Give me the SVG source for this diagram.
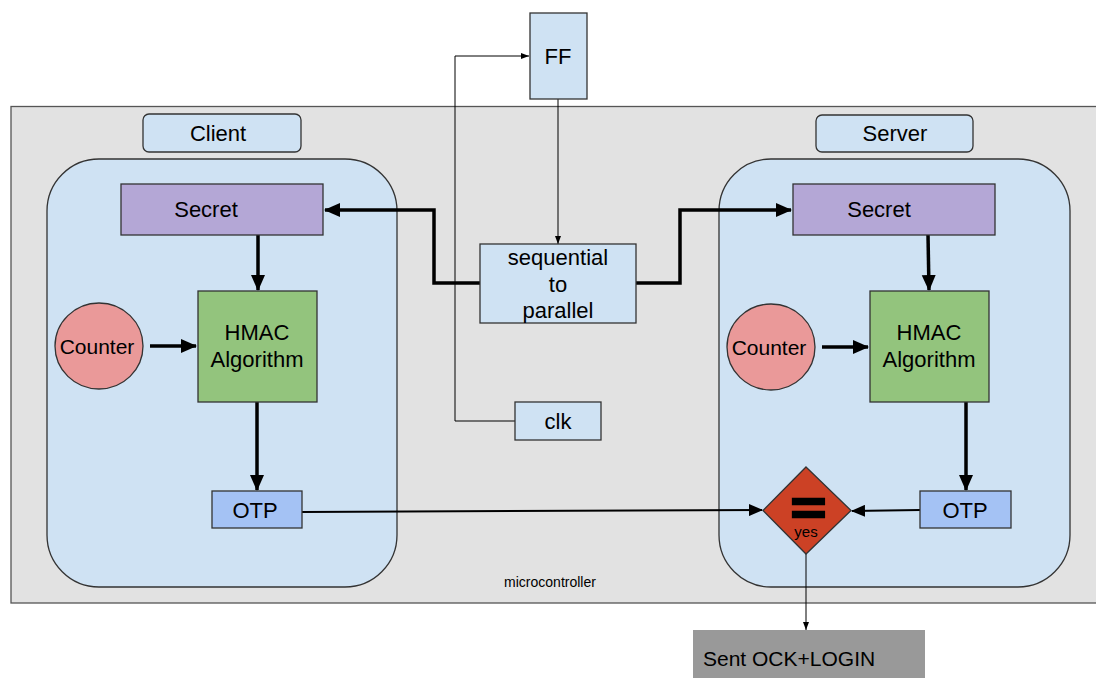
<svg xmlns="http://www.w3.org/2000/svg" width="1096" height="678" viewBox="0 0 1096 678">
<defs>
<style>
text{font-family:"Liberation Sans",Arial,sans-serif;fill:#000;text-anchor:middle;font-size:22px}
.box{stroke:#333;stroke-width:1.3}
.thick{fill:none;stroke:#000;stroke-width:3.5}
.mid{fill:none;stroke:#000;stroke-width:2}
.thin{fill:none;stroke:#000;stroke-width:1}
</style>
<marker id="ah" markerUnits="userSpaceOnUse" markerWidth="16" markerHeight="16" viewBox="0 0 16 16" refX="15" refY="8" orient="auto"><path d="M0,1 L16,8 L0,15 Z" fill="#000"/></marker>
<marker id="am" markerUnits="userSpaceOnUse" markerWidth="14" markerHeight="12" viewBox="0 0 14 12" refX="13" refY="6" orient="auto"><path d="M0,0 L14,6 L0,12 Z" fill="#000"/></marker>
<marker id="as" markerUnits="userSpaceOnUse" markerWidth="8" markerHeight="8" viewBox="0 0 8 8" refX="8" refY="4" orient="auto"><path d="M0,1 L8,4 L0,7 Z" fill="#000"/></marker>
</defs>
<rect width="1096" height="678" fill="#fff"/>
<g id="microcontroller">
<rect x="11" y="106.5" width="1090" height="496.5" fill="#e2e2e2" stroke="#555" stroke-width="1.3"/>
<text x="550" y="587" style="font-size:14px">microcontroller</text>
</g>
<g id="client-label"><rect class="box" x="143" y="114" width="158" height="38" rx="6" fill="#cfe2f3"/><text x="218" y="141">Client</text></g>
<g id="client-container"><rect class="box" x="47" y="159" width="350" height="428" rx="52" fill="#cfe2f3"/></g>
<g id="server-label"><rect class="box" x="816" y="115" width="157" height="37" rx="6" fill="#cfe2f3"/><text x="895" y="141">Server</text></g>
<g id="server-container"><rect class="box" x="719" y="159" width="351" height="428" rx="52" fill="#cfe2f3"/></g>

<g id="connectors">
<path class="thin" d="M515,421 H455 V56 H529" marker-end="url(#as)"/>
<path class="thin" d="M558,99 V244" marker-end="url(#as)"/>
<path class="thick" d="M480,283 H434 V210 H325" marker-end="url(#ah)"/>
<path class="thick" d="M636,283 H680 V210 H791" marker-end="url(#ah)"/>
<path class="thick" d="M258,235 V290" marker-end="url(#ah)"/>
<path class="thick" d="M150,346 H196" marker-end="url(#ah)"/>
<path class="thick" d="M257,402 V490" marker-end="url(#ah)"/>
<path class="thick" d="M928,235 L929,290" marker-end="url(#ah)"/>
<path class="thick" d="M822,347 H868" marker-end="url(#ah)"/>
<path class="thick" d="M966,402 V490" marker-end="url(#ah)"/>
<path class="mid" d="M302,512 L762,510" stroke-width="1.5" marker-end="url(#am)"/>
<path class="mid" d="M920,510 L852,511" marker-end="url(#am)"/>
<path class="thin" d="M806,554 V630" marker-end="url(#as)"/>
</g>

<g id="ff"><rect class="box" x="530" y="13" width="57" height="86" fill="#cfe2f3"/><text x="558" y="64">FF</text></g>
<g id="seq2par"><rect class="box" x="480" y="244" width="156" height="79" fill="#cfe2f3"/>
<text x="558" y="265">sequential</text><text x="558" y="292">to</text><text x="558" y="318">parallel</text></g>
<g id="clk"><rect class="box" x="515" y="402" width="86" height="38" fill="#cfe2f3"/><text x="558" y="429">clk</text></g>

<g id="client-secret"><rect class="box" x="121" y="184" width="202" height="51" fill="#b4a7d6"/><text x="206" y="217">Secret</text></g>
<g id="client-hmac"><rect class="box" x="198" y="291" width="119" height="111" fill="#93c47d"/><text x="257" y="340">HMAC</text><text x="257" y="367">Algorithm</text></g>
<g id="client-counter"><ellipse class="box" cx="99" cy="346" rx="44" ry="43" fill="#ea9999"/><text x="97" y="354" style="font-size:21px">Counter</text></g>
<g id="client-otp"><rect class="box" x="212" y="491" width="90" height="37" fill="#a4c2f4"/><text x="255" y="518">OTP</text></g>

<g id="server-secret"><rect class="box" x="793" y="184" width="202" height="51" fill="#b4a7d6"/><text x="879" y="217">Secret</text></g>
<g id="server-hmac"><rect class="box" x="870" y="291" width="119" height="111" fill="#93c47d"/><text x="929" y="340">HMAC</text><text x="929" y="367">Algorithm</text></g>
<g id="server-counter"><ellipse class="box" cx="771" cy="347" rx="44" ry="43" fill="#ea9999"/><text x="769" y="355" style="font-size:21px">Counter</text></g>
<g id="server-otp"><rect class="box" x="920" y="491" width="91" height="37" fill="#a4c2f4"/><text x="965" y="518">OTP</text></g>

<g id="compare"><path class="box" d="M806,467 L851,510.5 L806,554 L763,510.5 Z" fill="#cc4125"/>
<text transform="translate(808.5,524) scale(1.3,1)" x="0" y="0" style="font-size:46px;font-weight:bold" stroke="#000" stroke-width="2.5">=</text>
<text x="806" y="537" style="font-size:15px">yes</text></g>

<g id="sent"><rect x="693" y="630" width="232" height="50" fill="#999999"/><text x="703" y="666" style="text-anchor:start;font-size:21px">Sent OCK+LOGIN</text></g>
</svg>
